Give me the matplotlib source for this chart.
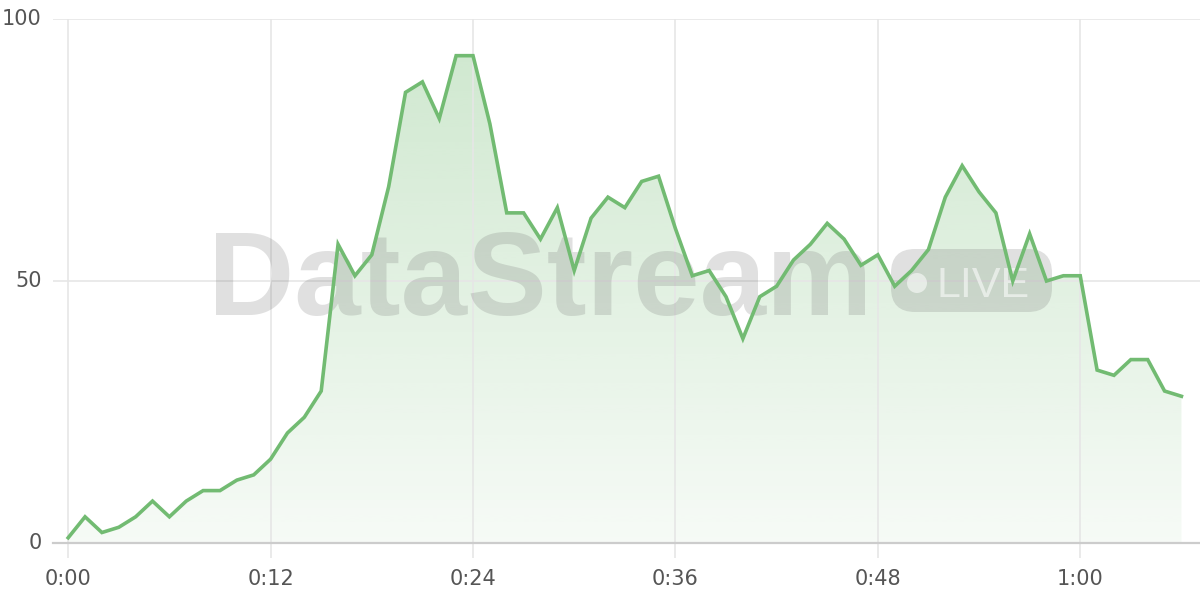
import matplotlib
matplotlib.use("Agg")
import matplotlib.pyplot as plt
import numpy as np
from matplotlib.patches import FancyBboxPatch, Circle
from matplotlib.path import Path
from matplotlib.patches import PathPatch
import matplotlib.transforms as mtransforms

# Data: one value per minute, 0:00 .. 1:06
minutes = list(range(0, 67))
values = [1, 5, 2, 3, 5, 8, 5, 8, 10, 10,
          12, 13, 16, 21, 24, 29, 57, 51, 55, 68,
          86, 88, 81, 93, 93, 80, 63, 63, 58, 64,
          52, 62, 66, 64, 69, 70, 60, 51, 52, 47,
          39, 47, 49, 54, 57, 61, 58, 53, 55, 49,
          52, 56, 66, 72, 67, 63, 50, 59, 50, 51,
          51, 33, 32, 35, 35, 29, 28]
x_ticks = [0, 12, 24, 36, 48, 60]
x_tick_labels = ["0:00", "0:12", "0:24", "0:36", "0:48", "1:00"]
y_ticks = [0, 50, 100]
y_tick_labels = ["0", "50", "100"]

line_color = "#72bb72"
grid_color = "#e6e6e6"
text_color = "#555555"

fig = plt.figure(figsize=(12, 6), dpi=100)
ax = fig.add_axes([53 / 1200, 1 - 543 / 600, 1 - 53 / 1200, (543 - 19) / 600])
ax.set_xlim(-0.9, 67.1)
ax.set_ylim(0, 100)

x = np.array(minutes, dtype=float)
y = np.array(values, dtype=float)

# gradient fill clipped to area under the line
verts = [(x[0], 0)] + list(zip(x, y)) + [(x[-1], 0), (x[0], 0)]
codes = [Path.MOVETO] + [Path.LINETO] * (len(verts) - 2) + [Path.CLOSEPOLY]
clip = PathPatch(Path(verts, codes), facecolor="none", edgecolor="none")
ax.add_patch(clip)
n = 256
grad = np.zeros((n, 1, 4))
base = matplotlib.colors.to_rgb("#6db96d")
grad[:, 0, 0] = base[0]
grad[:, 0, 1] = base[1]
grad[:, 0, 2] = base[2]
grad[:, 0, 3] = np.linspace(0.34, 0.06, n)
im = ax.imshow(grad, extent=[x[0], x[-1], 0, 100], origin="upper",
               aspect="auto", zorder=1, interpolation="bilinear")
im.set_clip_path(clip)
ax.set_ylim(0, 100)
ax.set_xlim(-0.9, 67.1)

# grid
for t in x_ticks:
    ax.axvline(t, color=grid_color, lw=1.2, zorder=1.5)
for t in y_ticks[1:]:
    ax.axhline(t, color=grid_color, lw=1.2, zorder=1.5)

# watermark (pixel coordinates of the image, y downwards)
pix = mtransforms.Affine2D().scale(1, -1).translate(0, 600)
wm_color = (0.45, 0.45, 0.45, 0.22)
ax.text(208, 315, "DataStream", transform=pix, fontsize=86, fontweight="bold",
        family="Liberation Sans", color=wm_color, ha="left", va="baseline",
        zorder=2)
badge = FancyBboxPatch((891 + 24, 249 + 24), 161 - 48, 63 - 48,
                       boxstyle="round,pad=24", transform=pix,
                       facecolor=wm_color, edgecolor="none", zorder=2,
                       clip_on=False)
ax.add_patch(badge)
ax.add_patch(Circle((917, 283), 10, transform=pix, facecolor=(1, 1, 1, 0.55),
                    edgecolor="none", zorder=2.1, clip_on=False))
ax.text(936, 297, "LIVE", transform=pix, fontsize=31, family="Liberation Sans",
        color=(1, 1, 1, 0.55), ha="left", va="baseline", zorder=2.1)

# line
ax.plot(x, y, color=line_color, lw=2.6, zorder=3, solid_joinstyle="miter",
        clip_on=False)

# axes styling
for s in ["top", "right", "left"]:
    ax.spines[s].set_visible(False)
ax.spines["bottom"].set_color("#cccccc")
ax.spines["bottom"].set_linewidth(1.6)
ax.spines["bottom"].set_zorder(2.5)
ax.set_xticks(x_ticks)
ax.set_xticklabels(x_tick_labels)
ax.set_yticks(y_ticks)
ax.set_yticklabels(y_tick_labels)
ax.tick_params(axis="x", length=11, width=1.2, color=grid_color,
               labelsize=15, labelcolor=text_color, pad=8)
ax.tick_params(axis="y", length=0, labelsize=15, labelcolor=text_color, pad=8)
for lab in ax.get_yticklabels():
    lab.set_verticalalignment("center")

fig.savefig("out.png", dpi=100)
